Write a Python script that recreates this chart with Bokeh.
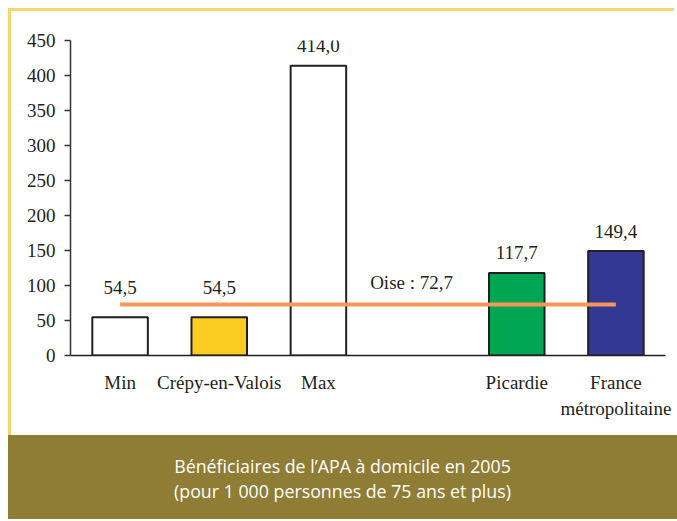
from bokeh.plotting import figure
from bokeh.models import FactorRange, Range1d, ColumnDataSource, LabelSet, Div
from bokeh.layouts import column
from bokeh.embed import file_html
from bokeh.resources import INLINE

# ---- data ----
categories = ["Min", "Crépy-en-Valois", "Max", "Picardie", "France\nmétropolitaine"]
values = [54.5, 54.5, 414.0, 117.7, 149.4]
bar_colors = ["#FFFFFF", "#FCCB23", "#FFFFFF", "#00A651", "#333895"]
oise_value = 72.7
oise_label = "Oise : 72,7"
gap_factor = " "
y_ticks = [0, 50, 100, 150, 200, 250, 300, 350, 400, 450]
caption_lines = ["Bénéficiaires de l’APA à domicile en 2005",
                 "(pour 1 000 personnes de 75 ans et plus)"]

# label offsets above bars (px) -- style only
label_offsets = [30, 30, 20, 21, 19]

factors = categories[:3] + [gap_factor] + categories[3:]

SERIF = "Liberation Serif"
FS = "19px"

p = figure(width=666, height=427, x_range=FactorRange(*factors, range_padding=0),
           y_range=Range1d(0, 450), output_backend="svg", toolbar_location=None,
           min_border_left=59, min_border_right=12, min_border_top=29,
           min_border_bottom=83)
p.styles = {"border-left": "3px solid #F8D66B", "border-top": "3px solid #F8D66B"}
p.outline_line_color = None
p.xgrid.grid_line_color = None
p.ygrid.grid_line_color = None
p.background_fill_color = "white"
p.border_fill_color = "white"

src = ColumnDataSource(dict(
    x=categories, top=values, color=bar_colors,
    lbl=[f"{v:.1f}".replace(".", ",") for v in values],
    off=label_offsets,
))

p.vbar(x="x", top="top", width=0.56, bottom=0, source=src, fill_color="color",
       line_color="#231F20", line_width=2)

p.line(x=[categories[0], categories[-1]], y=[oise_value, oise_value],
       line_color="#F7955A", line_width=4)

p.add_layout(LabelSet(x="x", y="top", text="lbl", y_offset="off", source=src,
                      text_align="center", text_baseline="middle",
                      text_font=SERIF, text_font_size=FS, text_color="#231F20"))

osrc = ColumnDataSource(dict(x=[gap_factor], y=[oise_value], t=[oise_label]))
p.add_layout(LabelSet(x="x", y="y", text="t", x_offset=-6, y_offset=22, source=osrc,
                      text_align="center", text_baseline="middle",
                      text_font=SERIF, text_font_size=FS, text_color="#231F20"))

ya = p.yaxis[0]
ya.ticker = y_ticks
ya.axis_line_color = "#333333"
ya.axis_line_width = 1.5
ya.major_tick_line_color = "#333333"
ya.major_tick_line_width = 1.5
ya.major_tick_out = 6
ya.major_tick_in = 0
ya.minor_tick_line_color = None
ya.major_label_text_font = SERIF
ya.major_label_text_font_size = FS
ya.major_label_text_color = "#231F20"
ya.major_label_standoff = 9

xa = p.xaxis[0]
xa.axis_line_color = "#231F20"
xa.axis_line_width = 1.5
xa.major_tick_line_color = None
xa.major_tick_out = 0
xa.major_tick_in = 0
xa.minor_tick_line_color = None
xa.major_label_text_font = SERIF
xa.major_label_text_font_size = FS
xa.major_label_text_color = "#231F20"
xa.major_label_text_line_height = 1.25
xa.major_label_standoff = 16

cap = Div(text=("<div style='width:669px;padding-top:19px;text-align:center;color:white;"
                "font-family:\"Open Sans\";font-size:17.8px;line-height:25px;'>"
                + "<br>".join(caption_lines) + "</div>"),
          width=669, height=84, margin=0,
          styles={"background-color": "#8F7D35", "text-align": "center"})

layout = column(p, cap, spacing=0, margin=(8, 0, 0, 8))

open("out.html", "w").write(file_html(layout, INLINE))
